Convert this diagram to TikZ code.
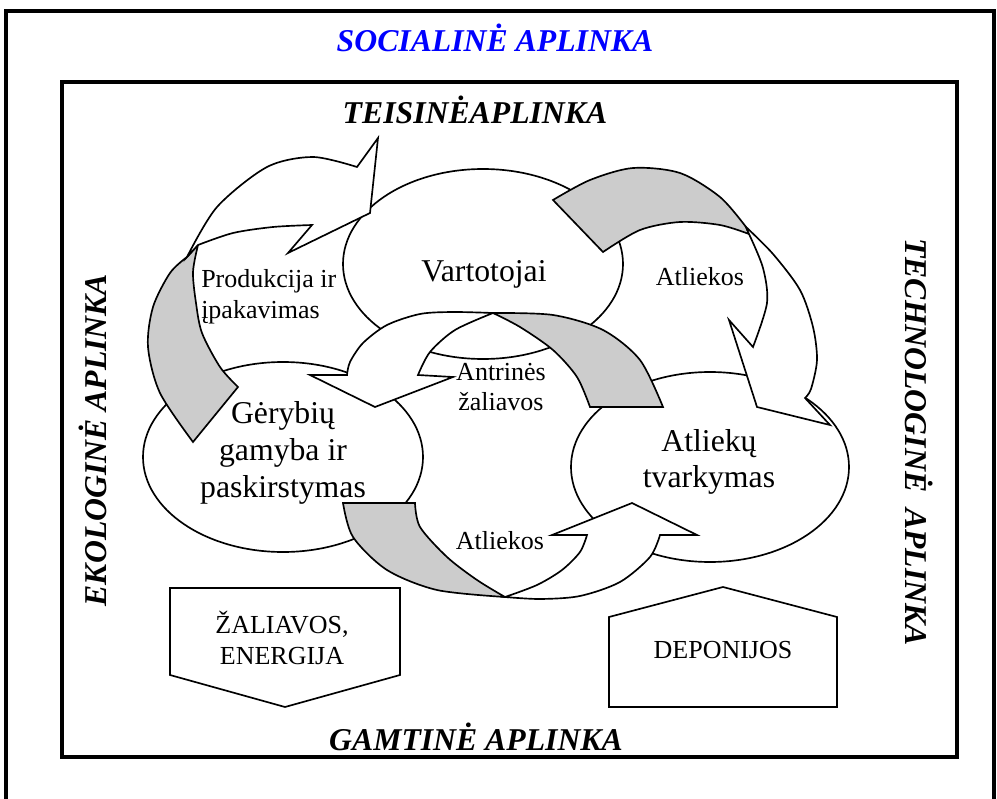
\documentclass[tikz,border=0pt]{standalone}
\usepackage{fontspec}
\setmainfont{Liberation Serif}
\usepackage{tikz}
\definecolor{ribbongray}{RGB}{204,204,204}
\definecolor{socblue}{RGB}{0,0,255}

\tikzset{
  frame/.style={draw=black,line width=2.6pt},
  cloud/.style={draw=black,fill=white,line width=1.25pt},
  ribbon/.style={draw=black,fill=white,line width=1.25pt,line join=miter},
  ribbonback/.style={ribbon,fill=ribbongray},
  sign/.style={draw=black,fill=white,line width=1.25pt},
  envtitle/.style={font=\fontsize{23.8}{28}\selectfont\bfseries\itshape,inner sep=0pt},
  biglabel/.style={font=\fontsize{23.8}{27.5}\selectfont,align=center,inner sep=0pt},
  smalllabel/.style={font=\fontsize{19.5}{23}\selectfont,inner sep=0pt}
}

\begin{document}
\begin{tikzpicture}[x=0.75pt,y=-0.75pt]
\useasboundingbox (0,0) rectangle (997,799);
\clip (0,0) rectangle (997,799);

\draw[frame] (6,11) rectangle (994,840);
\draw[frame] (62,82) rectangle (957,757);

\filldraw[cloud] (483,264) ellipse (140 and 95);
\filldraw[cloud] (283,457) ellipse (140 and 95);
\filldraw[cloud] (710,467) ellipse (139 and 95);

\filldraw[ribbonback] plot[smooth] coordinates {(193,442) (160,393) (148,347) (153,307) (170,273) (187,257)}
  -- plot[smooth] coordinates {(198,245) (193,272) (196,303) (202,333) (220,367) (238,387)} -- cycle;
\filldraw[ribbon] plot[smooth] coordinates {(187,257) (217,207) (267,167) (313,157) (357,167)}
  -- (378,138) -- (370,213) -- (288,253) -- (312,225)
  -- plot[smooth] coordinates {(312,225) (273,227) (233,233) (198,245)} -- cycle;

\filldraw[ribbonback] plot[smooth] coordinates {(553,200) (590,180) (633,168) (680,173) (720,197) (746,227)}
  -- plot[smooth] coordinates {(749,234) (720,225) (680,222) (640,230) (603,252)} -- cycle;
\filldraw[ribbon] plot[smooth] coordinates {(746,227) (773,254) (800,290) (813,327) (817,360) (811,389) (805,398)}
  -- (830,425) -- (757,407) -- (729,320) -- (753,347)
  -- plot[smooth] coordinates {(753,347) (767,303) (763,268) (749,234)} -- cycle;

\filldraw[ribbonback] plot[smooth] coordinates {(493,313) (553,315) (603,330) (640,360) (663,407)}
  -- plot[smooth] coordinates {(590,407) (577,377) (553,350) (520,327) (493,313)} -- cycle;
\filldraw[ribbon] plot[smooth] coordinates {(493,313) (453,312) (420,314) (387,325) (363,343) (350,362) (347,375)}
  -- (310,375) -- (375,407) -- (453,377) -- (418,375)
  -- plot[smooth] coordinates {(418,375) (430,352) (455,330) (493,313)} -- cycle;

\filldraw[ribbonback] plot[smooth] coordinates {(343,503) (353,537) (387,570) (437,590) (505,597)}
  -- plot[smooth] coordinates {(505,597) (477,580) (447,557) (420,527) (415,503)} -- cycle;
\filldraw[ribbon] plot[smooth] coordinates {(505,597) (540,599) (580,596) (620,582) (650,557) (660,535)}
  -- (697,535) -- (632,503) -- (552,535) -- (587,535)
  -- plot[smooth] coordinates {(587,535) (580,552) (562,570) (537,585) (505,597)} -- cycle;

\filldraw[sign] (170,588) -- (400,588) -- (400,675) -- (285,707) -- (170,675) -- cycle;
\filldraw[sign] (609,707) -- (609,617) -- (723,587) -- (837,617) -- (837,707) -- cycle;

\node[envtitle,text=socblue,anchor=base] (social) at (495,52) {SOCIALINĖ APLINKA};
\node[envtitle,anchor=base] (legal) at (475,123) {TEISINĖAPLINKA};
\node[envtitle,anchor=base] (natural) at (476,750) {GAMTINĖ APLINKA};
\node[envtitle,rotate=90] (ecological) at (93,440) {EKOLOGINĖ APLINKA};
\node[envtitle,rotate=-90] (technological) at (919,442) {TECHNOLOGINĖ\ \ APLINKA};

\node[biglabel,anchor=base] (consumers) at (484,281) {Vartotojai};
\node[biglabel] (production) at (283,453) {Gėrybių\\gamyba ir\\paskirstymas};
\node[biglabel] (wastemgmt) at (709,462) {Atliekų\\tvarkymas};

\node[smalllabel,align=left,anchor=west] (packaging) at (201,297) {Produkcija ir\\įpakavimas};
\node[smalllabel,align=center] (secondary) at (501,387) {Antrinės\\žaliavos};
\node[smalllabel,anchor=base] (wastetop) at (700,285) {Atliekos};
\node[smalllabel,anchor=base] (wastebottom) at (500,549) {Atliekos};

\node[smalllabel,align=center] (resources) at (282,638) {ŽALIAVOS,\\ENERGIJA};
\node[smalllabel,anchor=base] (landfills) at (723,658) {DEPONIJOS};
\end{tikzpicture}
\end{document}
